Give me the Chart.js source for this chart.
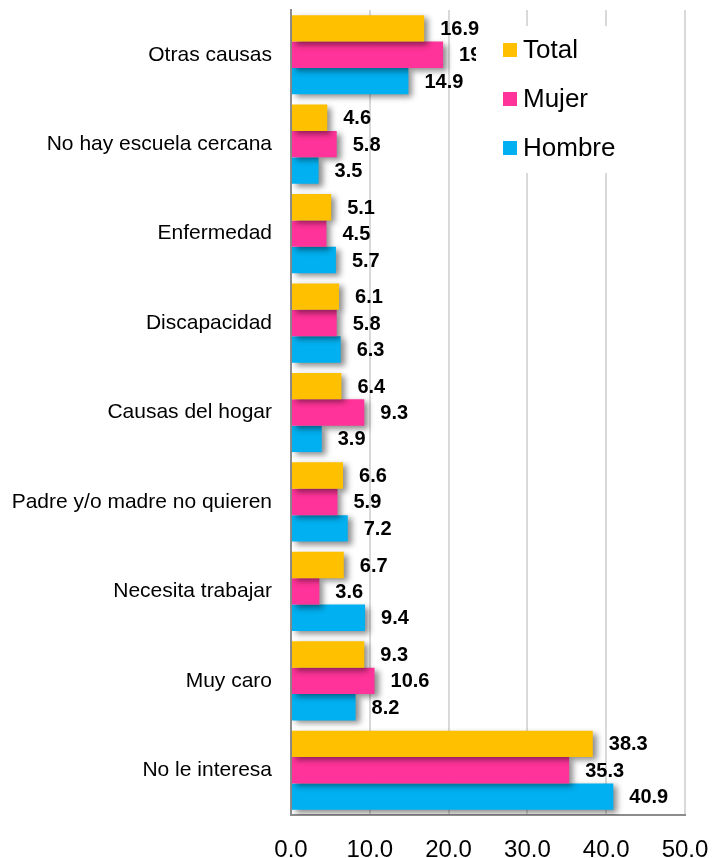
<!DOCTYPE html>
<html>
<head>
<meta charset="utf-8">
<script src="https://cdn.jsdelivr.net/npm/chart.js@4/dist/chart.umd.min.js"></script>
<style>
html,body{margin:0;padding:0;background:#fff;}
#wrap{width:715px;height:858px;position:relative;}
</style>
</head>
<body>
<div id="wrap"><canvas id="c" width="715" height="858"></canvas></div>
<script>
const categories = ["Otras causas","No hay escuela cercana","Enfermedad","Discapacidad","Causas del hogar","Padre y/o madre no quieren","Necesita trabajar","Muy caro","No le interesa"];
const totalValues = [16.9, 4.6, 5.1, 6.1, 6.4, 6.6, 6.7, 9.3, 38.3];
const mujerValues = [19.3, 5.8, 4.5, 5.8, 9.3, 5.9, 3.6, 10.6, 35.3];
const hombreValues = [14.9, 3.5, 5.7, 6.3, 3.9, 7.2, 9.4, 8.2, 40.9];
const xTicks = [0, 10, 20, 30, 40, 50];
const seriesNames = ["Total", "Mujer", "Hombre"];
const seriesColors = ["#FFC000", "#FF3399", "#00B0F0"];

const FONT = "'Liberation Sans', Arial, sans-serif";

const shadowPlugin = {
  id: 'shadow',
  beforeDatasetDraw(chart) {
    const ctx = chart.ctx;
    ctx.save();
    ctx.shadowColor = 'rgba(0,0,0,0.45)';
    ctx.shadowBlur = 6;
    ctx.shadowOffsetX = 4;
    ctx.shadowOffsetY = 3;
  },
  afterDatasetDraw(chart) {
    chart.ctx.restore();
  }
};

const labelPlugin = {
  id: 'labels',
  afterDatasetsDraw(chart) {
    const ctx = chart.ctx;
    ctx.save();
    ctx.font = "bold 20px " + FONT;
    ctx.fillStyle = "#000";
    ctx.textBaseline = "middle";
    ctx.textAlign = "left";
    chart.data.datasets.forEach((ds, di) => {
      const meta = chart.getDatasetMeta(di);
      meta.data.forEach((bar, i) => {
        ctx.fillText(ds.data[i].toFixed(1), bar.x + 16, bar.y + 1);
      });
    });
    ctx.restore();
  }
};

const legendPlugin = {
  id: 'customLegend',
  afterDraw(chart) {
    const ctx = chart.ctx;
    ctx.save();
    ctx.fillStyle = "#fff";
    ctx.fillRect(482, 26, 201, 16);
    ctx.fillRect(476, 42, 207, 131);
    ctx.font = "26px " + FONT;
    ctx.textBaseline = "middle";
    ctx.textAlign = "left";
    const ys = [50, 99, 148];
    seriesNames.forEach((n, i) => {
      ctx.fillStyle = seriesColors[i];
      ctx.fillRect(503, ys[i] - 7, 14, 14);
      ctx.fillStyle = "#000";
      ctx.fillText(n, 523, ys[i] + 1);
    });
    ctx.restore();
  }
};

new Chart(document.getElementById('c'), {
  type: 'bar',
  data: {
    labels: categories,
    datasets: [
      { label: seriesNames[0], data: totalValues, backgroundColor: seriesColors[0] },
      { label: seriesNames[1], data: mujerValues, backgroundColor: seriesColors[1] },
      { label: seriesNames[2], data: hombreValues, backgroundColor: seriesColors[2] }
    ]
  },
  options: {
    indexAxis: 'y',
    responsive: false,
    animation: false,
    devicePixelRatio: 1,
    layout: { padding: { top: 10, right: 30, left: 0, bottom: 0 } },
    datasets: { bar: { categoryPercentage: 0.885, barPercentage: 1.0 } },
    plugins: { legend: { display: false }, tooltip: { enabled: false } },
    scales: {
      x: {
        min: 0, max: 50,
        afterBuildTicks(scale) { scale.ticks = xTicks.map(v => ({ value: v })); },
        afterFit(scale) {
          scale.height = 43;
          scale.paddingLeft = 0; scale.paddingRight = 0;
          scale.paddingTop = 0; scale.paddingBottom = 0;
        },
        ticks: {
          color: "#000",
          font: { family: FONT, size: 24 },
          padding: 21,
          maxRotation: 0,
          callback: v => Number(v).toFixed(1)
        },
        grid: { color: "#d9d9d9", lineWidth: 2, drawTicks: false },
        border: { color: "#8c8c8c", width: 2 }
      },
      y: {
        afterFit(scale) {
          scale.width = 291;
          scale.paddingLeft = 0; scale.paddingRight = 0;
          scale.paddingTop = 0; scale.paddingBottom = 0;
        },
        ticks: {
          color: "#000",
          font: { family: FONT, size: 21 },
          padding: 19
        },
        grid: { display: false, drawTicks: false },
        border: { color: "#8c8c8c", width: 2 }
      }
    }
  },
  plugins: [shadowPlugin, labelPlugin, legendPlugin]
});
</script>
</body>
</html>
